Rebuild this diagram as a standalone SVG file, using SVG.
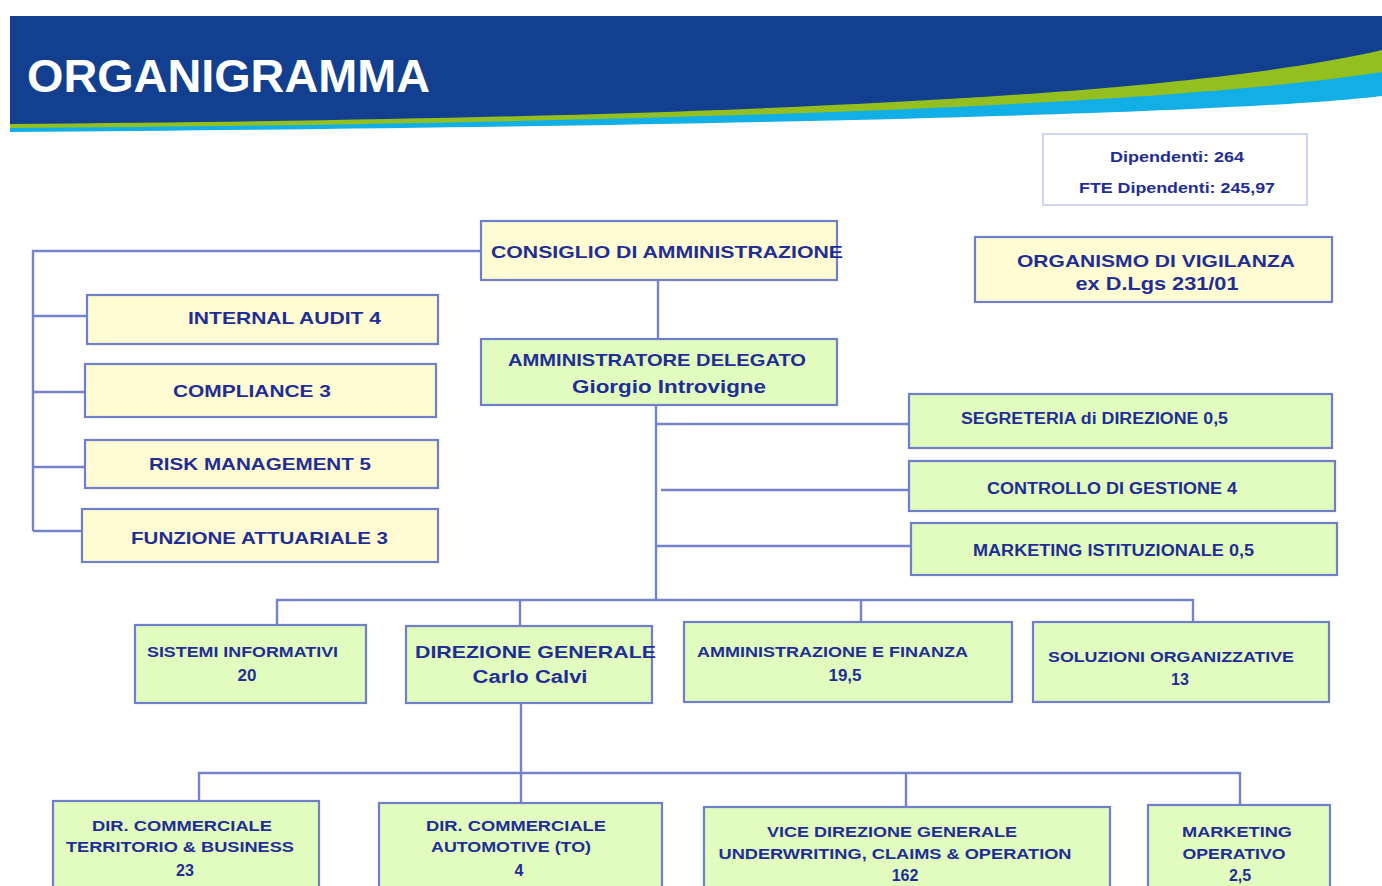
<svg xmlns="http://www.w3.org/2000/svg" width="1382" height="886" viewBox="0 0 1382 886">
<style>
.t{font-family:"Liberation Sans",Arial,sans-serif;font-weight:bold;fill:#1f2d96;}
.y{fill:#fffcd4;stroke:#6f7fca;stroke-width:2.2;}
.g{fill:#e2fcc0;stroke:#6f7fca;stroke-width:2.2;}
.c{fill:none;stroke:#7383cc;stroke-width:2.4;}
</style>
<rect width="1382" height="886" fill="#ffffff"/>
<g id="header">
<path d="M10,16 H1382 V96 C1250,112 800,126 10,132 Z" fill="#12aee6"/>
<path d="M10,16 H1382 V72 C1200,100 800,122 10,128 Z" fill="#93c01f"/>
<path d="M10,16 H1382 V50 C1200,92 800,118 10,124 Z" fill="#123f8f"/>
<text x="27" y="92" font-family="Liberation Sans,Arial,sans-serif" font-weight="bold" font-size="46" fill="#ffffff" textLength="403" lengthAdjust="spacingAndGlyphs">ORGANIGRAMMA</text>
</g>
<g id="connectors">
<path class="c" d="M481,251 H33 V531 M33,316 H87 M33,392 H85 M33,467 H85 M33,531 H82"/>
<path class="c" d="M658,280 V339"/>
<path class="c" d="M656,405 V600 M656,424 H909 M661,490 H909 M656,546 H911"/>
<path class="c" d="M277,625 V600 H1193 V622 M520,600 V626 M861,600 V622"/>
<path class="c" d="M521,703 V803 M199,801 V773 H1240 V805 M906,773 V807"/>
</g>
<g id="stats">
<rect x="1043" y="134" width="264" height="71" fill="#ffffff" stroke="#c3cbee" stroke-width="1.6"/>
<text class="t" x="1177" y="162" font-size="15" text-anchor="middle" textLength="134" lengthAdjust="spacingAndGlyphs">Dipendenti: 264</text>
<text class="t" x="1177" y="193" font-size="15" text-anchor="middle" textLength="196" lengthAdjust="spacingAndGlyphs">FTE Dipendenti: 245,97</text>
</g>
<g id="odv">
<rect class="y" x="975" y="237" width="357" height="65"/>
<text class="t" x="1156" y="267" font-size="17" text-anchor="middle" textLength="278" lengthAdjust="spacingAndGlyphs">ORGANISMO DI VIGILANZA</text>
<text class="t" x="1157" y="290" font-size="19" text-anchor="middle" textLength="163" lengthAdjust="spacingAndGlyphs">ex D.Lgs 231/01</text>
</g>
<g id="cda">
<rect class="y" x="481" y="221" width="356" height="59"/>
<text class="t" x="491" y="258" font-size="17" textLength="352" lengthAdjust="spacingAndGlyphs">CONSIGLIO DI AMMINISTRAZIONE</text>
</g>
<g id="ad">
<rect class="g" x="481" y="339" width="356" height="66"/>
<text class="t" x="508" y="366" font-size="17" textLength="298" lengthAdjust="spacingAndGlyphs">AMMINISTRATORE DELEGATO</text>
<text class="t" x="572" y="393" font-size="18" textLength="194" lengthAdjust="spacingAndGlyphs">Giorgio Introvigne</text>
</g>
<g id="internal-audit">
<rect class="y" x="87" y="295" width="351" height="49"/>
<text class="t" x="188" y="324" font-size="17" textLength="193" lengthAdjust="spacingAndGlyphs">INTERNAL AUDIT 4</text>
</g>
<g id="compliance">
<rect class="y" x="85" y="364" width="351" height="53"/>
<text class="t" x="173" y="397" font-size="17" textLength="158" lengthAdjust="spacingAndGlyphs">COMPLIANCE 3</text>
</g>
<g id="risk">
<rect class="y" x="85" y="440" width="353" height="48"/>
<text class="t" x="149" y="470" font-size="17" textLength="222" lengthAdjust="spacingAndGlyphs">RISK MANAGEMENT 5</text>
</g>
<g id="attuariale">
<rect class="y" x="82" y="509" width="356" height="53"/>
<text class="t" x="131" y="544" font-size="17" textLength="257" lengthAdjust="spacingAndGlyphs">FUNZIONE ATTUARIALE 3</text>
</g>
<g id="segreteria">
<rect class="g" x="909" y="394" width="423" height="54"/>
<text class="t" x="961" y="424" font-size="16" textLength="267" lengthAdjust="spacingAndGlyphs">SEGRETERIA di DIREZIONE 0,5</text>
</g>
<g id="controllo">
<rect class="g" x="909" y="461" width="426" height="50"/>
<text class="t" x="987" y="494" font-size="16" textLength="250" lengthAdjust="spacingAndGlyphs">CONTROLLO DI GESTIONE 4</text>
</g>
<g id="marketing-ist">
<rect class="g" x="911" y="523" width="426" height="52"/>
<text class="t" x="973" y="556" font-size="16" textLength="281" lengthAdjust="spacingAndGlyphs">MARKETING ISTITUZIONALE 0,5</text>
</g>
<g id="sistemi">
<rect class="g" x="135" y="625" width="231" height="78"/>
<text class="t" x="147" y="657" font-size="15" textLength="191" lengthAdjust="spacingAndGlyphs">SISTEMI INFORMATIVI</text>
<text class="t" x="247" y="681" font-size="17" text-anchor="middle">20</text>
</g>
<g id="dg">
<rect class="g" x="406" y="626" width="246" height="77"/>
<text class="t" x="415" y="658" font-size="17" textLength="241" lengthAdjust="spacingAndGlyphs">DIREZIONE GENERALE</text>
<text class="t" x="530" y="683" font-size="18" text-anchor="middle" textLength="115" lengthAdjust="spacingAndGlyphs">Carlo Calvi</text>
</g>
<g id="afc">
<rect class="g" x="684" y="622" width="328" height="80"/>
<text class="t" x="697" y="657" font-size="15" textLength="271" lengthAdjust="spacingAndGlyphs">AMMINISTRAZIONE E FINANZA</text>
<text class="t" x="845" y="681" font-size="17" text-anchor="middle">19,5</text>
</g>
<g id="soluzioni">
<rect class="g" x="1033" y="622" width="296" height="80"/>
<text class="t" x="1048" y="662" font-size="15" textLength="246" lengthAdjust="spacingAndGlyphs">SOLUZIONI ORGANIZZATIVE</text>
<text class="t" x="1180" y="685" font-size="16" text-anchor="middle">13</text>
</g>
<g id="dc-territorio">
<rect class="g" x="53" y="801" width="266" height="95"/>
<text class="t" x="182" y="831" font-size="15" text-anchor="middle" textLength="180" lengthAdjust="spacingAndGlyphs">DIR. COMMERCIALE</text>
<text class="t" x="180" y="852" font-size="15" text-anchor="middle" textLength="228" lengthAdjust="spacingAndGlyphs">TERRITORIO &amp; BUSINESS</text>
<text class="t" x="185" y="876" font-size="16" text-anchor="middle">23</text>
</g>
<g id="dc-automotive">
<rect class="g" x="379" y="803" width="283" height="93"/>
<text class="t" x="516" y="831" font-size="15" text-anchor="middle" textLength="180" lengthAdjust="spacingAndGlyphs">DIR. COMMERCIALE</text>
<text class="t" x="511" y="852" font-size="15" text-anchor="middle" textLength="160" lengthAdjust="spacingAndGlyphs">AUTOMOTIVE (TO)</text>
<text class="t" x="519" y="876" font-size="16" text-anchor="middle">4</text>
</g>
<g id="vice-dg">
<rect class="g" x="704" y="807" width="406" height="89"/>
<text class="t" x="892" y="837" font-size="15" text-anchor="middle" textLength="250" lengthAdjust="spacingAndGlyphs">VICE DIREZIONE GENERALE</text>
<text class="t" x="895" y="859" font-size="15" text-anchor="middle" textLength="353" lengthAdjust="spacingAndGlyphs">UNDERWRITING, CLAIMS &amp; OPERATION</text>
<text class="t" x="905" y="881" font-size="16" text-anchor="middle">162</text>
</g>
<g id="marketing-op">
<rect class="g" x="1148" y="805" width="182" height="91"/>
<text class="t" x="1237" y="837" font-size="15" text-anchor="middle" textLength="110" lengthAdjust="spacingAndGlyphs">MARKETING</text>
<text class="t" x="1234" y="859" font-size="15" text-anchor="middle" textLength="103" lengthAdjust="spacingAndGlyphs">OPERATIVO</text>
<text class="t" x="1240" y="881" font-size="16" text-anchor="middle">2,5</text>
</g>
</svg>
